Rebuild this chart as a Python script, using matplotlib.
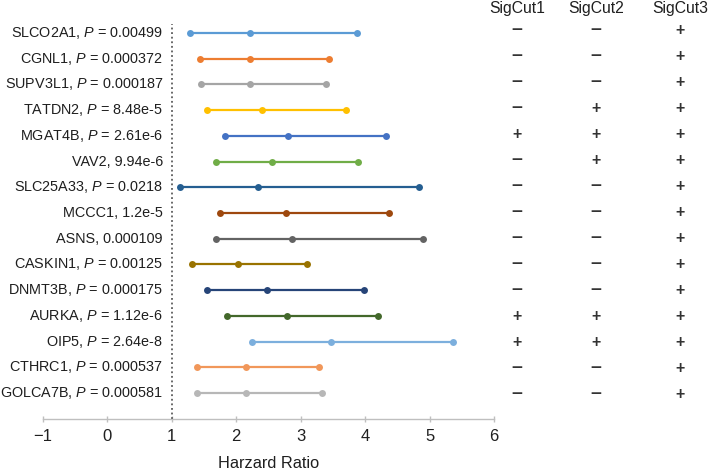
import matplotlib
matplotlib.use("Agg")
import matplotlib.pyplot as plt
import matplotlib.transforms as mtransforms

plt.rcParams['font.family'] = ['Liberation Sans', 'DejaVu Sans']
plt.rcParams['mathtext.fontset'] = 'custom'
plt.rcParams['mathtext.rm'] = 'Liberation Sans'
plt.rcParams['mathtext.it'] = 'Liberation Sans:italic'

genes = ["SLCO2A1", "CGNL1", "SUPV3L1", "TATDN2", "MGAT4B", "VAV2", "SLC25A33",
         "MCCC1", "ASNS", "CASKIN1", "DNMT3B", "AURKA", "OIP5", "CTHRC1", "GOLCA7B"]
pvals = ["0.00499", "0.000372", "0.000187", "8.48e-5", "2.61e-6", "9.94e-6", "0.0218",
         "1.2e-5", "0.000109", "0.00125", "0.000175", "1.12e-6", "2.64e-8", "0.000537", "0.000581"]
show_p = [True, True, True, True, True, False, True, False, False, True, True, True, True, True, True]
hr_low = [1.28, 1.43, 1.46, 1.55, 1.83, 1.69, 1.13, 1.75, 1.69, 1.32, 1.55, 1.85, 2.24, 1.39, 1.39]
hr_mid = [2.22, 2.22, 2.22, 2.40, 2.81, 2.56, 2.34, 2.77, 2.87, 2.02, 2.48, 2.78, 3.47, 2.15, 2.15]
hr_high = [3.87, 3.44, 3.39, 3.70, 4.33, 3.89, 4.84, 4.37, 4.90, 3.09, 3.99, 4.20, 5.37, 3.29, 3.33]
colors = ["#5B9BD5", "#ED7D31", "#A5A5A5", "#FFC000", "#4472C4", "#70AD47", "#255E91",
          "#9E480E", "#636363", "#997300", "#264478", "#43682B", "#7CAFDD", "#F1975A", "#B7B7B7"]
sig_headers = ["SigCut1", "SigCut2", "SigCut3"]
sigcut1 = ["-", "-", "-", "-", "+", "-", "-", "-", "-", "-", "-", "+", "+", "-", "-"]
sigcut2 = ["-", "-", "-", "+", "+", "+", "-", "-", "-", "-", "-", "+", "+", "-", "-"]
sigcut3 = ["+"] * 15
xticks = [-1, 0, 1, 2, 3, 4, 5, 6]
xlabel = "Harzard Ratio"

W, H = 709, 472
fig = plt.figure(figsize=(W / 100, H / 100), dpi=100)
ax = fig.add_axes([43 / W, 1 - 419 / H, (494 - 43) / W, (419 - 24) / H])

txt_color = "#1f1f1f"
n = len(genes)
for i in range(n):
    ax.plot([hr_low[i], hr_mid[i], hr_high[i]], [i, i, i], color=colors[i], lw=1.6,
            marker="o", markersize=5, markeredgewidth=0, solid_capstyle="butt", zorder=3)
    if show_p[i]:
        lab = genes[i] + r", $\it{P}$ = " + pvals[i]
    else:
        lab = genes[i] + ", " + pvals[i]
    ax.annotate(lab, xy=(1, i), xytext=(-6.5, 0), textcoords="offset points",
                ha="right", va="center", fontsize=10.4, color=txt_color)

ax.axvline(1, color="#404040", lw=1.1, linestyle=(0, (1.2, 1.8)), zorder=2)

ax.set_xlim(xticks[0], xticks[-1])
ax.set_ylim(n - 1 + 1.01, -0.35)
ax.set_xticks(xticks)
ax.set_xticklabels(["\u2212" + str(-t) if t < 0 else str(t) for t in xticks])
ax.set_yticks([])
for s in ["top", "right", "left"]:
    ax.spines[s].set_visible(False)
ax.spines["bottom"].set_color("#BFBFBF")
ax.spines["bottom"].set_linewidth(1.0)
ax.tick_params(axis="x", direction="inout", length=5, width=1.0, color="#BFBFBF",
               labelsize=12, labelcolor=txt_color, pad=5)
ax.set_xlabel(xlabel, fontsize=11.8, color=txt_color, labelpad=8)

# table of SigCut signs (rows of the table sit at their own spacing)
col_x = [517 / W, 596 / W, 680 / W]
cols = [sigcut1, sigcut2, sigcut3]
row_top_px, row_step_px = 29.0, 26.0
for c, xcol in enumerate(col_x):
    fig.text(xcol, 1 - 8 / H, sig_headers[c], ha="center", va="center",
             fontsize=11.3, color=txt_color)
    for i in range(n):
        yfig = 1 - (row_top_px + i * row_step_px) / H
        s = cols[c][i]
        if s == "+":
            fig.text(xcol, yfig, "+", ha="center", va="center_baseline",
                     fontsize=11.5, fontweight="bold", color="#333333")
        else:
            fig.text(xcol, yfig, "\u2013", ha="center", va="center",
                     fontsize=14, fontweight="bold", color="#333333")

fig.savefig("out.png", dpi=100)
